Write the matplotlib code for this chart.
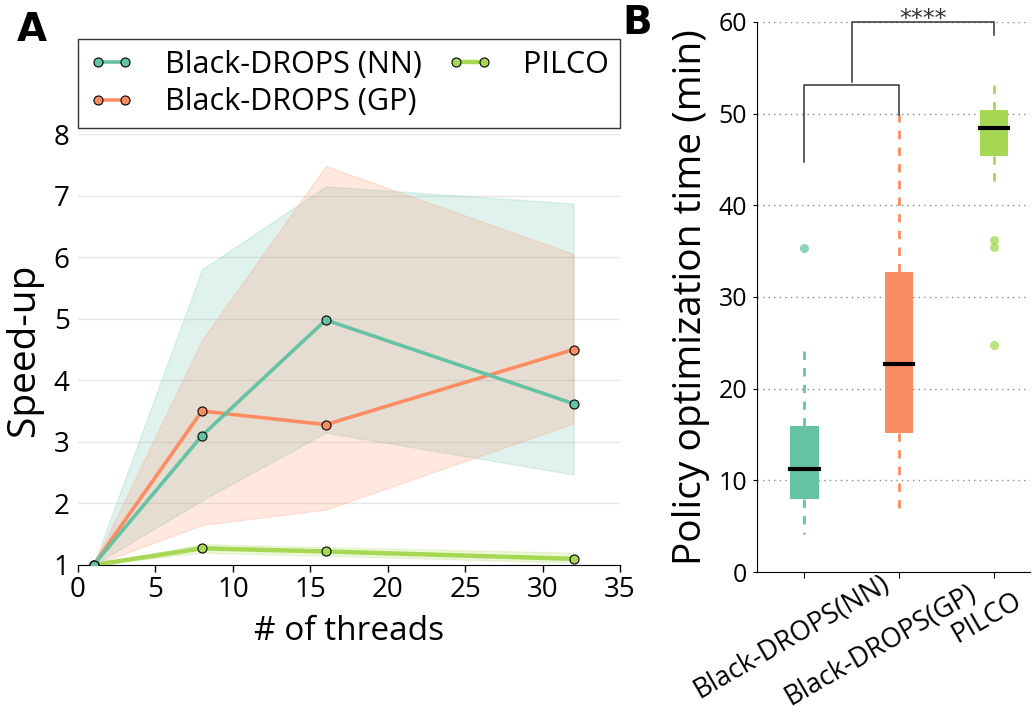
import matplotlib
matplotlib.use("Agg")
import matplotlib.pyplot as plt
from matplotlib.transforms import ScaledTranslation, blended_transform_factory

plt.rcParams['font.family'] = ['Open Sans', 'DejaVu Sans']

# ---- Panel A data ----
threads = [1, 8, 16, 32]
nn_mean = [1.0, 3.1, 4.98, 3.62]
nn_low = [1.0, 2.05, 3.15, 2.47]
nn_high = [1.0, 5.8, 7.15, 6.87]
gp_mean = [1.0, 3.5, 3.28, 4.5]
gp_low = [1.0, 1.65, 1.9, 3.3]
gp_high = [1.0, 4.65, 7.48, 6.05]
pilco_mean = [1.0, 1.27, 1.22, 1.1]
pilco_low = [1.0, 1.2, 1.15, 1.04]
pilco_high = [1.0, 1.34, 1.29, 1.2]
series_labels = ['Black-DROPS (NN)', 'Black-DROPS (GP)', 'PILCO']
x_ticks_a = [0, 5, 10, 15, 20, 25, 30, 35]
y_ticks_a = [1, 2, 3, 4, 5, 6, 7, 8]

# ---- Panel B data ----
box_labels = ['Black-DROPS(NN)', 'Black-DROPS(GP)', 'PILCO']
box_q1 = [8.0, 15.2, 45.4]
box_med = [11.2, 22.65, 48.45]
box_q3 = [15.9, 32.7, 50.4]
box_whislo = [4.2, 6.8, 42.3]
box_whishi = [24.3, 49.8, 53.6]
box_fliers = [[35.3], [], [36.2, 35.4, 24.75]]
y_ticks_b = [0, 10, 20, 30, 40, 50, 60]
sig_text = '****'

colors = ['#66c2a5', '#fc8d62', '#a6d854']

fig = plt.figure(figsize=(10.35, 7.16), dpi=100)

# ---------------- Panel A ----------------
axA = fig.add_axes([0.0754, 0.2109, 0.5237, 0.6019])
means = [nn_mean, gp_mean, pilco_mean]
lows = [nn_low, gp_low, pilco_low]
highs = [nn_high, gp_high, pilco_high]
lws = [2.6, 2.6, 3.2]
for i in range(3):
    axA.fill_between(threads, lows[i], highs[i], color=colors[i], alpha=0.2,
                     linewidth=1.0, zorder=1 + i)
for i in range(3):
    axA.plot(threads, means[i], color=colors[i], lw=lws[i], marker='o',
             markersize=6.5, markeredgecolor='black', markeredgewidth=0.8,
             label=series_labels[i], zorder=10 - i)
axA.set_xlim(0, 35)
axA.set_ylim(1, 8)
axA.set_xticks(x_ticks_a)
axA.set_yticks(y_ticks_a)
axA.tick_params(axis='x', labelsize=20, direction='out', length=5, width=1, pad=3)
axA.tick_params(axis='y', labelsize=20, length=0, pad=6)
axA.yaxis.grid(True, color='#e6e6e6', lw=1)
axA.set_axisbelow(True)
for s in ['top', 'right', 'left']:
    axA.spines[s].set_visible(False)
axA.spines['bottom'].set_color('black')
axA.set_xlabel('# of threads', fontsize=24, labelpad=8)
axA.set_ylabel('Speed-up', fontsize=28, labelpad=8)
leg = axA.legend(loc='lower left', bbox_to_anchor=(0, 1.014, 1, 0.3), mode='expand',
                 ncol=2, fontsize=22, frameon=True, fancybox=False, borderaxespad=0,
                 handlelength=1.5, handletextpad=1.0, columnspacing=0.8,
                 labelspacing=0.25, numpoints=2, borderpad=0.35)
leg.get_frame().set_edgecolor('black')
leg.get_frame().set_linewidth(1.0)

fig.text(0.031, 0.958, 'A', fontsize=28, fontweight='bold', family='DejaVu Sans',
         ha='center', va='center')

# ---------------- Panel B ----------------
axB = fig.add_axes([0.7314, 0.2011, 0.2636, 0.7682])
stats = []
for i in range(3):
    stats.append(dict(q1=box_q1[i], med=box_med[i], q3=box_q3[i],
                      whislo=box_whislo[i], whishi=box_whishi[i],
                      fliers=box_fliers[i], label=box_labels[i]))
positions = [1, 2, 3]
for i in range(3):
    axB.bxp([stats[i]], positions=[positions[i]], widths=0.3, patch_artist=True,
            showcaps=False,
            boxprops=dict(facecolor=colors[i], edgecolor=colors[i], linewidth=0),
            medianprops=dict(color='black', linewidth=3, solid_capstyle='projecting'),
            whiskerprops=dict(color=colors[i], linewidth=2, linestyle=(0, (3, 3))),
            flierprops=dict(marker='o', markerfacecolor=colors[i], markeredgecolor='none',
                            markersize=6.5, alpha=0.75),
            manage_ticks=False)
axB.set_xlim(0.5, 3.38)
axB.set_ylim(0, 60)
axB.set_xticks(positions)
axB.set_xticklabels([])
# category labels drawn as rotated texts under each tick (offsets are layout only)
label_shift_px = [(-13, 2), (-19, -7), (-7, -15)]
base = blended_transform_factory(axB.transData, axB.transAxes)
for pos, lab, (dx, dy) in zip(positions, box_labels, label_shift_px):
    tr = base + ScaledTranslation(dx / 100, dy / 100, fig.dpi_scale_trans)
    axB.text(pos, 0, lab, transform=tr, rotation=30, ha='center', va='top',
             fontsize=19.5, clip_on=False)
axB.set_yticks(y_ticks_b)
axB.tick_params(axis='y', labelsize=18, direction='out', length=3, width=0.8, pad=4)
axB.tick_params(axis='x', direction='out', length=4, width=0.8, pad=1)
axB.yaxis.grid(True, color='#888888', linestyle=(0, (1, 3)), lw=1)
axB.set_axisbelow(True)
for s in ['top', 'right']:
    axB.spines[s].set_visible(False)
axB.spines['left'].set_color('black')
axB.spines['bottom'].set_color('black')
axB.set_ylabel('Policy optimization time (min)', fontsize=28, labelpad=6)

# significance brackets
bc = '#333333'
axB.plot([1, 1, 2, 2], [44.7, 53.1, 53.1, 49.8], color=bc, lw=1.1, clip_on=False, zorder=5)
axB.plot([1.5, 1.5, 3, 3], [53.5, 60, 60, 58.6], color=bc, lw=1.1, clip_on=False, zorder=5)
axB.text(2.25, 59.6, sig_text, ha='center', va='baseline', fontsize=17, color=bc,
         family='DejaVu Sans', clip_on=False)

fig.text(0.616, 0.968, 'B', fontsize=28, fontweight='bold', family='DejaVu Sans',
         ha='center', va='center')

fig.savefig('out.png', dpi=100)
